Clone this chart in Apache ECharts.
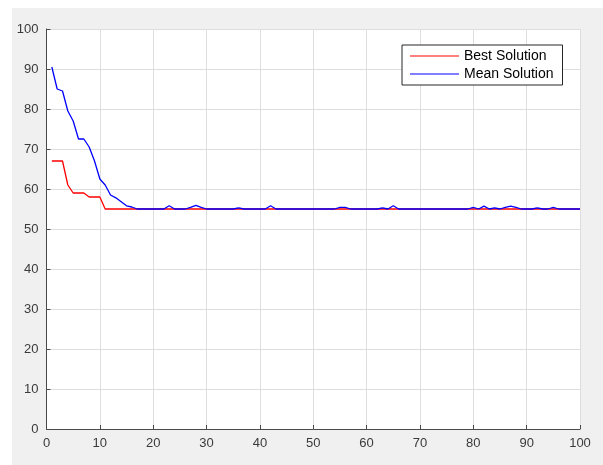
<!DOCTYPE html>
<html>
<head>
<meta charset="utf-8">
<script src="https://cdn.jsdelivr.net/npm/echarts@6/dist/echarts.min.js"></script>
<style>
  html, body { margin: 0; padding: 0; background: #fff; }
  #chart { width: 603px; height: 465px; }
</style>
</head>
<body>
<div id="chart"></div>
<script>
// 迭代曲线数据 (x = 1..100)
const seriesNames = ['Best Solution', 'Mean Solution'];
const bestSolution = [
  67, 67, 67, 61, 59, 59, 59, 58, 58, 58,
  55, 55, 55, 55, 55, 55, 55, 55, 55, 55,
  55, 55, 55, 55, 55, 55, 55, 55, 55, 55,
  55, 55, 55, 55, 55, 55, 55, 55, 55, 55,
  55, 55, 55, 55, 55, 55, 55, 55, 55, 55,
  55, 55, 55, 55, 55, 55, 55, 55, 55, 55,
  55, 55, 55, 55, 55, 55, 55, 55, 55, 55,
  55, 55, 55, 55, 55, 55, 55, 55, 55, 55,
  55, 55, 55, 55, 55, 55, 55, 55, 55, 55,
  55, 55, 55, 55, 55, 55, 55, 55, 55, 55
];
const meanSolution = [
  90.5, 85, 84.5, 79.5, 77, 72.5, 72.5, 70.5, 67, 62.5,
  61, 58.5, 57.8, 56.8, 55.8, 55.5, 55, 55, 55, 55,
  55, 55, 55.8, 55, 55, 55, 55.4, 55.9, 55.4, 55,
  55, 55, 55, 55, 55, 55.3, 55, 55, 55, 55,
  55, 55.8, 55, 55, 55, 55, 55, 55, 55, 55,
  55, 55, 55, 55, 55.4, 55.4, 55, 55, 55, 55,
  55, 55, 55.3, 55, 55.8, 55, 55, 55, 55, 55,
  55, 55, 55, 55, 55, 55, 55, 55, 55, 55.4,
  55, 55.7, 55, 55.3, 55, 55.4, 55.7, 55.4, 55, 55,
  55, 55.3, 55, 55, 55.4, 55, 55, 55, 55, 55
];
const axisMin = 0;
const axisMax = 100;
const axisStep = 10;

const myChart = echarts.init(document.getElementById('chart'));
const toPairs = arr => arr.map((v, i) => [i + 1, v]);
const axisColor = '#4a4a4a';
const labelColor = '#3a3a3a';

const option = {
  animation: false,
  backgroundColor: '#ffffff',
  textStyle: { fontFamily: 'Liberation Sans, Arial, sans-serif' },
  graphic: [{
    type: 'rect',
    z: -10,
    silent: true,
    shape: { x: 12, y: 8, width: 591, height: 457 },
    style: { fill: '#f0f0f0' }
  }],
  grid: {
    left: 46.5,
    right: 23,
    top: 29,
    bottom: 36,
    show: true,
    backgroundColor: '#ffffff',
    borderWidth: 0
  },
  legend: {
    orient: 'vertical',
    left: 402,
    top: 45,
    padding: [4, 9, 4, 8],
    itemGap: 4,
    itemWidth: 49,
    itemHeight: 1,
    icon: 'rect',
    backgroundColor: '#ffffff',
    borderColor: '#262626',
    borderWidth: 1,
    borderRadius: 0,
    textStyle: { color: '#000', fontSize: 14, fontFamily: 'Liberation Sans, Arial, sans-serif' },
    data: seriesNames
  },
  xAxis: {
    type: 'value',
    min: axisMin,
    max: axisMax,
    interval: axisStep,
    axisLine: { show: true, onZero: false, lineStyle: { color: axisColor, width: 1 } },
    axisTick: { show: true, inside: true, length: 4, lineStyle: { color: axisColor } },
    axisLabel: { color: labelColor, fontSize: 13, margin: 8 },
    splitLine: { show: true, lineStyle: { color: '#dedede', width: 1 } }
  },
  yAxis: {
    type: 'value',
    min: axisMin,
    max: axisMax,
    interval: axisStep,
    axisLine: { show: true, onZero: false, lineStyle: { color: axisColor, width: 1 } },
    axisTick: { show: true, inside: true, length: 4, lineStyle: { color: axisColor } },
    axisLabel: { color: labelColor, fontSize: 13, margin: 8 },
    splitLine: { show: true, lineStyle: { color: '#dedede', width: 1 } }
  },
  series: [
    {
      name: seriesNames[0],
      type: 'line',
      showSymbol: false,
      symbol: 'none',
      itemStyle: { color: '#ff0000' },
      lineStyle: { color: '#ff0000', width: 1.3 },
      data: toPairs(bestSolution)
    },
    {
      name: seriesNames[1],
      type: 'line',
      showSymbol: false,
      symbol: 'none',
      itemStyle: { color: '#0000ff' },
      lineStyle: { color: '#0000ff', width: 1.3 },
      data: toPairs(meanSolution)
    }
  ]
};

myChart.setOption(option);
</script>
</body>
</html>
